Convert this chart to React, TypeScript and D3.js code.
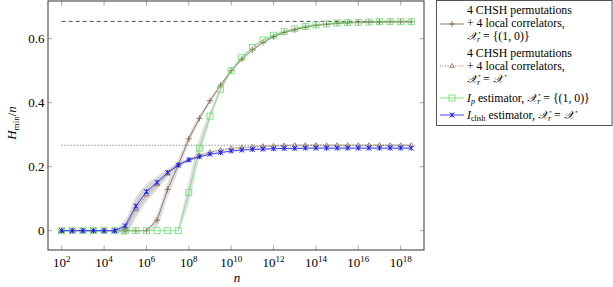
import React from "react";
import * as d3 from "d3";

// sample sizes n = 10^logN
const logN = [2, 2.5, 3, 3.5, 4, 4.5, 5, 5.5, 6, 6.5, 7, 7.5, 8, 8.5, 9, 9.5, 10, 10.5, 11, 11.5, 12, 12.5, 13, 13.5, 14, 14.5, 15, 15.5, 16, 16.5, 17, 17.5, 18, 18.5];

// 4 CHSH permutations + 4 local correlators, X_r = {(1,0)}
const localTen = [0, 0, 0, 0, 0, 0, 0, 0, 0, 0.033, 0.129, 0.205, 0.287, 0.351, 0.406, 0.455, 0.5, 0.536, 0.565, 0.588, 0.606, 0.62, 0.628, 0.636, 0.642, 0.645, 0.648, 0.65, 0.651, 0.652, 0.652, 0.653, 0.653, 0.653];
// 4 CHSH permutations + 4 local correlators, X_r = X
const localAll = [0, 0, 0, 0, 0, 0, 0.006, 0.067, 0.113, 0.145, 0.178, 0.205, 0.222, 0.235, 0.245, 0.252, 0.257, 0.26, 0.262, 0.264, 0.265, 0.266, 0.267, 0.267, 0.267, 0.267, 0.267, 0.267, 0.267, 0.267, 0.267, 0.267, 0.267, 0.267];
// I_p estimator
const ipEst = [0, 0, 0, 0, 0, 0, 0, 0, 0, 0, 0, 0, 0.12, 0.258, 0.358, 0.442, 0.5, 0.542, 0.573, 0.596, 0.611, 0.622, 0.631, 0.638, 0.643, 0.646, 0.649, 0.65, 0.651, 0.652, 0.653, 0.653, 0.653, 0.653];
// I_chsh estimator
const ichshEst = [0, 0, 0, 0, 0, 0, 0.015, 0.077, 0.122, 0.151, 0.182, 0.205, 0.221, 0.231, 0.239, 0.244, 0.249, 0.252, 0.254, 0.255, 0.256, 0.257, 0.257, 0.258, 0.258, 0.258, 0.258, 0.258, 0.258, 0.258, 0.258, 0.258, 0.258, 0.258];

// half widths of the grey spread bands
const spreadLocalTen = [0, 0, 0, 0, 0, 0, 0, 0, 0.004, 0.02, 0.025, 0.02, 0.014, 0.009, 0.006, 0.004, 0.003, 0.003, 0.003, 0.003, 0.003, 0.003, 0.003, 0.003, 0.003, 0.003, 0.003, 0.003, 0.003, 0.003, 0.003, 0.003, 0.003, 0.003];
const spreadLocalAll = [0, 0, 0, 0, 0, 0.003, 0.02, 0.028, 0.024, 0.018, 0.011, 0.007, 0.005, 0.004, 0.003, 0.003, 0.003, 0.003, 0.003, 0.003, 0.003, 0.003, 0.003, 0.003, 0.003, 0.003, 0.003, 0.003, 0.003, 0.003, 0.003, 0.003, 0.003, 0.003];
const spreadIp = [0, 0, 0, 0, 0, 0, 0, 0, 0, 0, 0, 0.003, 0.035, 0.03, 0.015, 0.008, 0.005, 0.003, 0.003, 0.003, 0.003, 0.003, 0.003, 0.003, 0.003, 0.003, 0.003, 0.003, 0.003, 0.003, 0.003, 0.003, 0.003, 0.003];
const spreadIchsh = [0, 0, 0, 0, 0, 0.003, 0.02, 0.028, 0.024, 0.018, 0.011, 0.007, 0.005, 0.004, 0.003, 0.003, 0.003, 0.003, 0.003, 0.003, 0.003, 0.003, 0.003, 0.003, 0.003, 0.003, 0.003, 0.003, 0.003, 0.003, 0.003, 0.003, 0.003, 0.003];

const boundTen = 0.654;
const boundAll = 0.267;
const boundRange = [2, 18.5];

const xTickExp = [2, 4, 6, 8, 10, 12, 14, 16, 18];
const yTicks = [0, 0.2, 0.4, 0.6];

const BROWN = "#7d5a45";
const GREEN = "#6ddc6d";
const BLUE = "#1a1aff";
const SERIF = "'Liberation Serif', 'Times New Roman', serif";

const W = 613, H = 287;
const left = 48, right = 424, top = 1, bottom = 250;

const x = d3.scaleLog().domain([Math.pow(10, 1.354), Math.pow(10, 19.1)]).range([left, right]);
const y = d3.scaleLinear().domain([-0.0603, 0.7178]).range([bottom, top]);
const px = (e: number) => x(Math.pow(10, e));

const line = d3.line<[number, number]>().x(d => px(d[0])).y(d => y(d[1]));
const band = d3.area<[number, number, number]>()
  .x(d => px(d[0])).y0(d => y(d[1] - d[2])).y1(d => y(d[1] + d[2]))
  .curve(d3.curveMonotoneX);

const pts = (vals: number[]) => logN.map((e, i) => [e, vals[i]] as [number, number]);
const bandPts = (vals: number[], sp: number[]) =>
  logN.map((e, i) => [e, vals[i], sp[i]] as [number, number, number]).filter(d => d[2] > 0);

function Mark({ kind, cx, cy }: { kind: string; cx: number; cy: number }) {
  if (kind === "plus") {
    return <path d={`M${cx - 3},${cy}H${cx + 3}M${cx},${cy - 3}V${cy + 3}`} stroke={BROWN} strokeWidth={0.8} />;
  }
  if (kind === "tri") {
    return <path d={`M${cx},${cy - 2.6}L${cx + 2.3},${cy + 1.4}L${cx - 2.3},${cy + 1.4}Z`} stroke={BROWN} strokeWidth={0.7} fill="none" />;
  }
  if (kind === "square") {
    return <rect x={cx - 3} y={cy - 3} width={6} height={6} stroke={GREEN} strokeWidth={0.8} fill="none" />;
  }
  const r = 2.4;
  return <path d={`M${cx - r},${cy - r}L${cx + r},${cy + r}M${cx - r},${cy + r}L${cx + r},${cy - r}M${cx},${cy - r}V${cy + r}`} stroke={BLUE} strokeWidth={1} />;
}

const series = [
  { vals: localTen, sp: spreadLocalTen, color: BROWN, dash: undefined, mark: "plus" },
  { vals: localAll, sp: spreadLocalAll, color: BROWN, dash: "1,1.5", mark: "tri" },
  { vals: ipEst, sp: spreadIp, color: GREEN, dash: undefined, mark: "square" },
  { vals: ichshEst, sp: spreadIchsh, color: BLUE, dash: undefined, mark: "star" },
];

function LegendSample({ s, cy }: { s: typeof series[number]; cy: number }) {
  return (
    <g>
      <line x1={440} x2={464} y1={cy} y2={cy} stroke={s.color} strokeWidth={0.8} strokeDasharray={s.dash} />
      <Mark kind={s.mark} cx={452} cy={cy} />
    </g>
  );
}

const Xr = () => (
  <>
    <tspan fontStyle="italic">𝒳</tspan>
    <tspan fontStyle="italic" fontSize={8} dy={2}>r</tspan>
    <tspan dy={-2}> = </tspan>
  </>
);

export default function App() {
  return (
    <svg width={W} height={H} style={{ position: "absolute", left: 0, top: 0, fontFamily: SERIF }} fontFamily={SERIF}>
      <rect width={W} height={H} fill="#fff" />
      {/* spread bands */}
      {series.map((s, i) => (
        <path key={"b" + i} d={band(bandPts(s.vals, s.sp)) || ""} fill="#c8c8c8" opacity={0.55} />
      ))}
      {/* reference bounds */}
      <line x1={px(boundRange[0])} x2={px(boundRange[1])} y1={y(boundTen)} y2={y(boundTen)} stroke="#222" strokeWidth={0.8} strokeDasharray="4,3" />
      <line x1={px(boundRange[0])} x2={px(boundRange[1])} y1={y(boundAll)} y2={y(boundAll)} stroke="#444" strokeWidth={0.8} strokeDasharray="1,2" />
      {series.map((s, i) => (
        <g key={"s" + i}>
          <path d={line(pts(s.vals)) || ""} fill="none" stroke={s.color} strokeWidth={0.8} strokeDasharray={s.dash} />
          {pts(s.vals).map((d, j) => <Mark key={j} kind={s.mark} cx={px(d[0])} cy={y(d[1])} />)}
        </g>
      ))}
      {/* ticks */}
      {xTickExp.map(e => (
        <g key={"xt" + e}>
          <line x1={px(e)} x2={px(e)} y1={bottom} y2={bottom - 4.5} stroke="#aaa" />
          <line x1={px(e)} x2={px(e)} y1={top} y2={top + 4.5} stroke="#aaa" />
          <text x={px(e)} y={267} textAnchor="middle" fontSize={13}>
            <tspan>10</tspan>
            <tspan fontSize={9} dy={-5.5}>{e}</tspan>
          </text>
        </g>
      ))}
      {yTicks.map(v => (
        <g key={"yt" + v}>
          <line x1={left} x2={left + 4.5} y1={y(v)} y2={y(v)} stroke="#aaa" />
          <line x1={right} x2={right - 4.5} y1={y(v)} y2={y(v)} stroke="#aaa" />
          <text x={44.5} y={y(v) + 4.5} textAnchor="end" fontSize={13}>{v === 0 ? "0" : v.toFixed(1)}</text>
        </g>
      ))}
      <rect x={left} y={top} width={right - left} height={bottom - top} fill="none" stroke="#333" strokeWidth={1} />
      {/* axis labels */}
      <text x={237} y={282} textAnchor="middle" fontSize={13} fontStyle="italic">n</text>
      <text transform="translate(16,123) rotate(-90)" textAnchor="middle" fontSize={13}>
        <tspan fontStyle="italic">H</tspan>
        <tspan fontSize={9} dy={2.5}>min</tspan>
        <tspan dy={-2.5}>/</tspan>
        <tspan fontStyle="italic">n</tspan>
      </text>
      {/* legend */}
      <rect x={436.5} y={0.5} width={175.5} height={125} fill="#fff" stroke="#555" strokeWidth={1} />
      <g fontSize={11.8}>
        <LegendSample s={series[0]} cy={24} />
        <text x={467} y={14}>4 CHSH permutations</text>
        <text x={467} y={27}>+ 4 local correlators,</text>
        <text x={467} y={40}><Xr />{"{(1, 0)}"}</text>
        <LegendSample s={series[1]} cy={66} />
        <text x={467} y={57}>4 CHSH permutations</text>
        <text x={467} y={70}>+ 4 local correlators,</text>
        <text x={467} y={83}><Xr /><tspan fontStyle="italic">𝒳</tspan></text>
        <LegendSample s={series[2]} cy={98} />
        <text x={467} y={101.5}>
          <tspan fontStyle="italic">I</tspan>
          <tspan fontStyle="italic" fontSize={8} dy={2}>p</tspan>
          <tspan dy={-2}> estimator, </tspan>
          <Xr />{"{(1, 0)}"}
        </text>
        <LegendSample s={series[3]} cy={115} />
        <text x={467} y={118.5}>
          <tspan fontStyle="italic">I</tspan>
          <tspan fontSize={8} dy={2}>chsh</tspan>
          <tspan dy={-2}> estimator, </tspan>
          <Xr /><tspan fontStyle="italic">𝒳</tspan>
        </text>
      </g>
    </svg>
  );
}
